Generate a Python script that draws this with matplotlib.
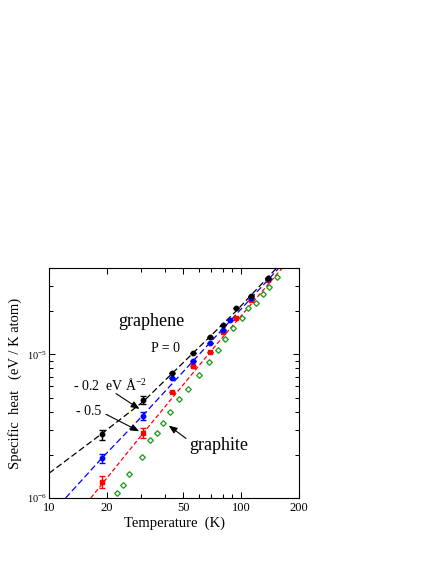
import matplotlib

matplotlib.use("Agg")
import matplotlib.pyplot as plt
from matplotlib.ticker import FixedFormatter, FixedLocator, NullFormatter

# graphene, simulated at P = 0, -0.2 and -0.5 eV/A^2
temps_p0 = [18.8, 30.9, 43.6, 56.1, 68.8, 80.7, 94.0, 112.5, 137.9]
heat_p0 = [2.77e-6, 4.81e-6, 7.41e-6, 1.03e-5, 1.33e-5, 1.60e-5, 2.12e-5, 2.56e-5, 3.43e-5]
err_p0 = [0.23e-6, 0.33e-6, 0, 0, 0, 0, 0, 0, 0]

temps_p02 = [18.8, 30.9, 43.6, 56.1, 68.8, 80.7, 87.4, 112.5, 137.9]
heat_p02 = [1.89e-6, 3.74e-6, 6.90e-6, 9.0e-6, 1.21e-5, 1.47e-5, 1.73e-5, 2.47e-5, 3.37e-5]
err_p02 = [0.14e-6, 0.23e-6, 0, 0, 0, 0, 0, 0, 0]

temps_p05 = [18.8, 30.9, 43.6, 56.1, 68.8, 80.7, 94.0, 112.5, 137.9]
heat_p05 = [1.30e-6, 2.84e-6, 5.49e-6, 8.29e-6, 1.04e-5, 1.44e-5, 1.78e-5, 2.41e-5, 3.29e-5]
err_p05 = [0.13e-6, 0.24e-6, 0, 0, 0, 0, 0, 0, 0]

# graphite
temps_graphite = [22.5, 24.4, 26.2, 30.4, 33.5, 36.6, 39.3, 42.6, 47.6, 53.1, 60.3,
                  68.2, 75.5, 82.4, 90.3, 100.6, 108.9, 119.0, 129.4, 139.5, 153.0]
heat_graphite = [1.09e-6, 1.23e-6, 1.46e-6, 1.94e-6, 2.53e-6, 2.85e-6, 3.34e-6, 3.99e-6,
                 4.86e-6, 5.71e-6, 7.18e-6, 8.88e-6, 1.08e-5, 1.28e-5, 1.54e-5, 1.80e-5,
                 2.11e-5, 2.30e-5, 2.63e-5, 2.95e-5, 3.47e-5]

# dashed guide lines
fit_t_p0 = [10.0, 18.6, 30.9, 56.1, 94.0, 153.0]
fit_c_p0 = [1.486e-6, 2.77e-6, 4.69e-6, 1.02e-5, 2.0e-5, 4.0e-5]
fit_t_p02 = [12.2, 18.6, 30.9, 157.3]
fit_c_p02 = [1.0e-6, 1.86e-6, 3.78e-6, 4.0e-5]
fit_t_p05 = [16.5, 30.9, 73.9, 163.6]
fit_c_p05 = [1.0e-6, 2.83e-6, 1.16e-5, 4.0e-5]

x_major = [10, 20, 50, 100, 200]
x_labels = ["10", "20", "50", "100", "200"]
x_minor = [30, 40, 60, 70, 80, 90]
y_major = [1e-6, 1e-5]
y_labels = [r"$10^{-6}$", r"$10^{-5}$"]
y_minor = [2e-6, 3e-6, 4e-6, 5e-6, 6e-6, 7e-6, 8e-6, 9e-6, 2e-5, 3e-5, 4e-5]

GREEN = "#169a16"


def style_axes(ax) -> None:
    ax.set_xscale("log")
    ax.set_yscale("log")
    ax.set_xlim(10, 200)
    ax.set_ylim(1e-6, 4e-5)
    ax.xaxis.set_major_locator(FixedLocator(x_major))
    ax.xaxis.set_major_formatter(FixedFormatter(x_labels))
    ax.xaxis.set_minor_locator(FixedLocator(x_minor))
    ax.xaxis.set_minor_formatter(NullFormatter())
    ax.yaxis.set_major_locator(FixedLocator(y_major))
    ax.yaxis.set_major_formatter(FixedFormatter(y_labels))
    ax.yaxis.set_minor_locator(FixedLocator(y_minor))
    ax.yaxis.set_minor_formatter(NullFormatter())
    ax.tick_params(which="both", direction="in", top=True, right=True, width=0.75)
    ax.tick_params(which="major", length=4.5)
    ax.tick_params(which="minor", length=3)
    ax.tick_params(axis="x", which="major", labelsize=9, pad=3)
    ax.tick_params(axis="y", which="major", labelsize=7.5, pad=1.5)
    for spine in ax.spines.values():
        spine.set_linewidth(0.8)


def draw_series(ax) -> None:
    ax.plot(fit_t_p0, fit_c_p0, color="black", lw=0.9, dashes=(5, 2.5))
    ax.plot(fit_t_p02, fit_c_p02, color="blue", lw=0.9, dashes=(5, 2.5))
    ax.plot(fit_t_p05, fit_c_p05, color="red", lw=0.9, dashes=(3.5, 2))

    ax.plot(temps_graphite, heat_graphite, ls="none", marker="D", ms=2.9,
            mfc="white", mec=GREEN, mew=0.9)

    series = [
        (temps_p05, heat_p05, err_p05, "red", "s"),
        (temps_p02, heat_p02, err_p02, "blue", "o"),
        (temps_p0, heat_p0, err_p0, "black", "o"),
    ]
    for temps, heat, err, color, marker in series:
        ax.errorbar(temps, heat, yerr=err, ls="none", marker=marker, ms=3.2,
                    color=color, mec=color, elinewidth=1.0, capsize=2.2, capthick=1.0)


def annotate(ax) -> None:
    ax.text(0.41, 0.766, "graphene", transform=ax.transAxes, fontsize=13,
            ha="center", va="center")
    ax.text(0.466, 0.652, "P = 0", transform=ax.transAxes, fontsize=10,
            ha="center", va="center")
    ax.text(0.678, 0.23, "graphite", transform=ax.transAxes, fontsize=13,
            ha="center", va="center")
    ax.text(0.096, 0.491, "- 0.2  eV Å$^{-2}$", transform=ax.transAxes, fontsize=10,
            ha="left", va="center")
    ax.text(0.107, 0.375, "- 0.5", transform=ax.transAxes, fontsize=10,
            ha="left", va="center")

    arrow = dict(arrowstyle="-|>,head_length=0.5,head_width=0.2", color="black",
                 lw=0.8, mutation_scale=10, shrinkA=0, shrinkB=0)
    ax.annotate("", xy=(0.362, 0.387), xytext=(0.268, 0.454),
                xycoords="axes fraction", textcoords="axes fraction", arrowprops=arrow)
    ax.annotate("", xy=(0.361, 0.29), xytext=(0.228, 0.364),
                xycoords="axes fraction", textcoords="axes fraction", arrowprops=arrow)
    ax.annotate("", xy=(0.479, 0.315), xytext=(0.548, 0.259),
                xycoords="axes fraction", textcoords="axes fraction", arrowprops=arrow)


def main() -> None:
    plt.rcParams["font.family"] = ["Liberation Serif", "DejaVu Serif"]
    plt.rcParams["mathtext.fontset"] = "custom"
    plt.rcParams["mathtext.rm"] = "Liberation Serif"
    plt.rcParams["mathtext.it"] = "Liberation Serif:italic"
    plt.rcParams["mathtext.bf"] = "Liberation Serif:bold"

    fig = plt.figure(figsize=(4.36, 5.64), dpi=100)
    ax = fig.add_axes([49 / 436, 1 - 498 / 564, 250 / 436, 230 / 564])
    style_axes(ax)
    draw_series(ax)
    annotate(ax)

    fig.text(174 / 436, 1 - 523 / 564, "Temperature  (K)", fontsize=10.5,
             ha="center", va="center")
    fig.text(15 / 436, 1 - 383 / 564, "Specific  heat   (eV / K atom)", fontsize=10.5,
             ha="center", va="center", rotation=90)

    fig.savefig("out.png", dpi=100)
    plt.close(fig)


if __name__ == "__main__":
    main()
